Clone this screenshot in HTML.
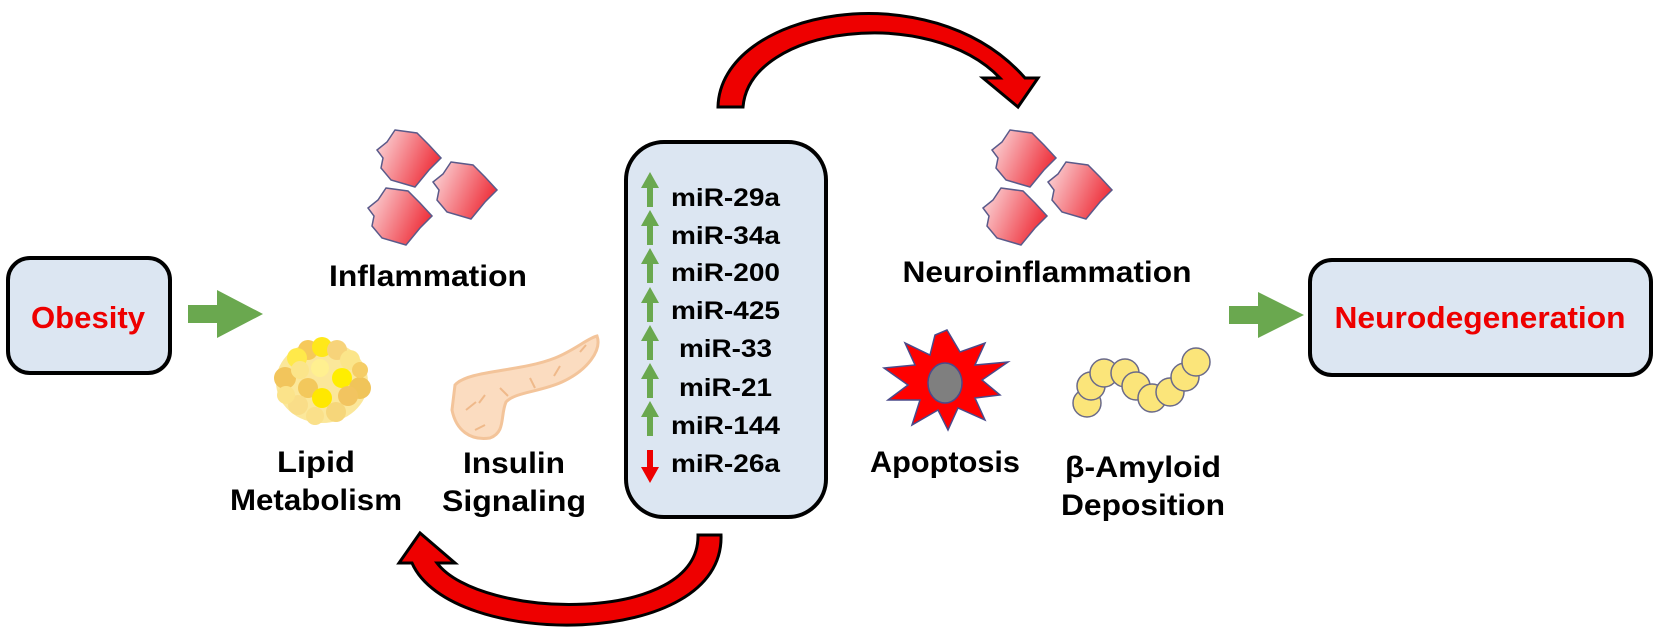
<!DOCTYPE html>
<html><head><meta charset="utf-8"><style>
html,body{margin:0;padding:0;background:#fff;}
svg{display:block;}
text{font-family:"Liberation Sans",Arial,sans-serif;font-weight:bold;}
</style></head><body>
<svg width="1655" height="638" viewBox="0 0 1655 638" xmlns="http://www.w3.org/2000/svg">
<defs>
<linearGradient id="cg" x1="0" y1="0.2" x2="1" y2="0.6">
<stop offset="0" stop-color="#fbd3d6"/><stop offset="1" stop-color="#ee2a35"/></linearGradient>
<g id="cell"><polygon points="18,0 40,3 52,15 64,28 52,40 38,57 14,50 4,38 6,28 0,20 10,12" fill="url(#cg)" stroke="#5a5a8a" stroke-width="1.5"/></g>
<g id="cells">
<use href="#cell" x="0" y="0"/>
<use href="#cell" x="56" y="32"/>
<use href="#cell" x="-9" y="58"/>
</g>
</defs>

<!-- Obesity box -->
<rect x="8" y="258" width="162" height="115" rx="22" fill="#dce6f2" stroke="#000" stroke-width="4"/>
<text x="88" y="328" font-size="31" fill="#e00" text-anchor="middle" textLength="114" lengthAdjust="spacingAndGlyphs">Obesity</text>

<!-- green arrow 1 -->
<polygon points="188,305 217,305 217,290 263,314 217,338 217,323 188,323" fill="#6aa84f"/>

<!-- left cells -->
<use href="#cells" x="377" y="130"/>
<text x="428" y="286" font-size="30" text-anchor="middle" textLength="198" lengthAdjust="spacingAndGlyphs">Inflammation</text>

<!-- lipid blob -->
<g>
<ellipse cx="322" cy="382" rx="46" ry="41" fill="#fbe79a"/>
<circle cx="308" cy="350" r="10" fill="#f6c95a"/><circle cx="322" cy="347" r="10" fill="#ffe81a"/>
<circle cx="337" cy="350" r="10" fill="#f7d37a"/><circle cx="297" cy="358" r="10" fill="#ffe94a"/>
<circle cx="350" cy="360" r="10" fill="#fbe58a"/><circle cx="285" cy="378" r="11" fill="#f2c55c"/>
<circle cx="300" cy="370" r="9" fill="#fbe58a"/><circle cx="320" cy="368" r="9" fill="#fff090"/>
<circle cx="308" cy="388" r="10" fill="#f3c85c"/><circle cx="342" cy="378" r="10" fill="#ffee00"/>
<circle cx="360" cy="388" r="11" fill="#f0c45a"/><circle cx="322" cy="398" r="10" fill="#ffe800"/>
<circle cx="348" cy="396" r="10" fill="#f2c460"/>
<circle cx="298" cy="405" r="10" fill="#f9dd88"/><circle cx="336" cy="412" r="10" fill="#f6d67a"/>
<circle cx="315" cy="416" r="9" fill="#fae08a"/><circle cx="286" cy="395" r="9" fill="#fbe38a"/>
<circle cx="360" cy="370" r="8" fill="#f5cd66"/>
</g>

<!-- pancreas -->
<path d="M455,385 C468,370 520,372 555,358 C575,350 588,338 597,336 C602,350 588,370 562,382 C540,392 515,392 506,402 C500,416 506,432 490,438 C470,441 456,430 452,410 Z" fill="#fbdcc0" stroke="#f3c49a" stroke-width="3"/>
<path d="M466,410 l10,-8 M500,388 l8,8 M530,378 l5,10 M560,366 l-6,10 M475,430 l10,-5 M580,352 l6,-7 M485,395 l-6,8" stroke="#efb98a" stroke-width="2" fill="none"/>

<text x="316" y="472" font-size="30" text-anchor="middle" textLength="78" lengthAdjust="spacingAndGlyphs">Lipid</text>
<text x="316" y="510" font-size="30" text-anchor="middle" textLength="172" lengthAdjust="spacingAndGlyphs">Metabolism</text>
<text x="514" y="473" font-size="30" text-anchor="middle" textLength="102" lengthAdjust="spacingAndGlyphs">Insulin</text>
<text x="514" y="511" font-size="30" text-anchor="middle" textLength="144" lengthAdjust="spacingAndGlyphs">Signaling</text>

<!-- center box -->
<rect x="626" y="142" width="200" height="375" rx="38" fill="#dce6f2" stroke="#000" stroke-width="4"/>
<g font-size="25">
<text x="671" y="206" textLength="109" lengthAdjust="spacingAndGlyphs">miR-29a</text>
<text x="671" y="244" textLength="109" lengthAdjust="spacingAndGlyphs">miR-34a</text>
<text x="671" y="281" textLength="109" lengthAdjust="spacingAndGlyphs">miR-200</text>
<text x="671" y="319" textLength="109" lengthAdjust="spacingAndGlyphs">miR-425</text>
<text x="679" y="357" textLength="93" lengthAdjust="spacingAndGlyphs">miR-33</text>
<text x="679" y="396" textLength="93" lengthAdjust="spacingAndGlyphs">miR-21</text>
<text x="671" y="434" textLength="109" lengthAdjust="spacingAndGlyphs">miR-144</text>
<text x="671" y="472" textLength="109" lengthAdjust="spacingAndGlyphs">miR-26a</text>
</g>
<g fill="#6aa84f">
<polygon points="650,172 659,188 653,188 653,207 647,207 647,188 641,188"/>
<polygon points="650,210 659,226 653,226 653,245 647,245 647,226 641,226"/>
<polygon points="650,248 659,264 653,264 653,283 647,283 647,264 641,264"/>
<polygon points="650,287 659,303 653,303 653,322 647,322 647,303 641,303"/>
<polygon points="650,325 659,341 653,341 653,360 647,360 647,341 641,341"/>
<polygon points="650,363 659,379 653,379 653,398 647,398 647,379 641,379"/>
<polygon points="650,401 659,417 653,417 653,436 647,436 647,417 641,417"/>
</g>
<polygon points="647,450 653,450 653,467 659,467 650,483 641,467 647,467" fill="#e00"/>

<!-- top arrow -->
<path d="M718,107 C720,10 930,-30 1025,78 L1038,78 L1018,107 L983,78 L1000,78 C930,5 750,25 743,107 Z" fill="#e00" stroke="#000" stroke-width="3"/>

<!-- bottom arrow -->
<path d="M721,535 C725,650 450,650 412,563 L399,563 L420,533 L455,563 L437,563 C480,620 700,625 698,535 Z" fill="#e00" stroke="#000" stroke-width="3"/>

<!-- right cells -->
<use href="#cells" x="992" y="130"/>
<text x="1047" y="282" font-size="30" text-anchor="middle" textLength="289" lengthAdjust="spacingAndGlyphs">Neuroinflammation</text>

<!-- apoptosis star -->
<polygon points="947,330 960,352 985,343 975,365 1008,362 982,380 1000,395 975,398 985,420 958,408 948,430 938,410 912,425 920,400 888,400 908,385 884,368 915,365 905,343 930,355 935,335" fill="#f00" stroke="#4a4a8a" stroke-width="1.5"/>
<ellipse cx="945" cy="383" rx="17" ry="20" fill="#7f7f7f" stroke="#4a4a8a" stroke-width="1.5"/>
<text x="945" y="472" font-size="30" text-anchor="middle" textLength="150" lengthAdjust="spacingAndGlyphs">Apoptosis</text>

<!-- amyloid chain -->
<g fill="#fbe57a" stroke="#6a6a8a" stroke-width="1.5">
<circle cx="1087" cy="403" r="14"/>
<circle cx="1091" cy="386" r="14"/>
<circle cx="1104" cy="373" r="14"/>
<circle cx="1125" cy="373" r="14"/>
<circle cx="1136" cy="386" r="14"/>
<circle cx="1152" cy="398" r="14"/>
<circle cx="1170" cy="392" r="14"/>
<circle cx="1185" cy="377" r="14"/>
<circle cx="1196" cy="362" r="14"/>
</g>
<text x="1143" y="477" font-size="30" text-anchor="middle" textLength="156" lengthAdjust="spacingAndGlyphs">β-Amyloid</text>
<text x="1143" y="515" font-size="30" text-anchor="middle" textLength="164" lengthAdjust="spacingAndGlyphs">Deposition</text>

<!-- green arrow 2 -->
<polygon points="1229,306 1258,306 1258,292 1304,315 1258,338 1258,324 1229,324" fill="#6aa84f"/>

<!-- Neurodegeneration box -->
<rect x="1310" y="260" width="341" height="115" rx="22" fill="#dce6f2" stroke="#000" stroke-width="4"/>
<text x="1480" y="328" font-size="31" fill="#e00" text-anchor="middle" textLength="291" lengthAdjust="spacingAndGlyphs">Neurodegeneration</text>
</svg>
</body></html>
